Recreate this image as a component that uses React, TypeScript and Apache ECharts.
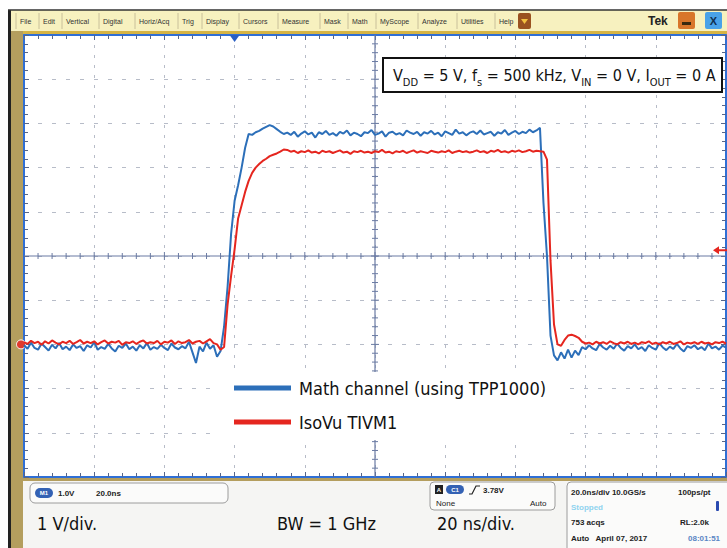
import React, { useEffect, useRef } from "react";
import * as echarts from "echarts";

// ---------- data ----------
const sampleIntervalNs = 1;
const timeMinNs = 0;
const timeMaxNs = 200;
const timePerDivNs = 20;
const voltMin = -3;
const voltMax = 7;
const voltPerDiv = 1;
const triggerTimeNs = 60;
const triggerMarkerV = 2.13;

const seriesNames = ["Math channel (using TPP1000)", "IsoVu TIVM1"];

// Math channel (TPP1000), volts, one sample per ns from 0 to 200 ns
const mathChannelV = [
  -0.02, -0.1, 0.04, -0.08, -0.12, 0.02, -0.06, -0.14, -0.01, -0.09,
  0.03, -0.11, -0.05, -0.13, 0.0, -0.08, -0.04, -0.15, -0.02, -0.07,
  0.05, -0.12, -0.06, -0.1, 0.01, -0.09, -0.16, -0.03, -0.08, 0.02,
  -0.11, -0.05, -0.14, -0.02, -0.09, 0.03, -0.12, -0.06, -0.1, -0.01,
  -0.08, -0.13, 0.02, -0.07, -0.11, -0.04, -0.09, 0.06, -0.18, -0.42,
  -0.05, -0.16, 0.04, -0.1, -0.02, -0.28,
  -0.15, 0.4, 1.3, 2.5, 3.25, 3.6, 4.0, 4.45, 4.76,
  4.74, 4.8, 4.83, 4.88, 4.92, 4.96, 4.93, 4.87, 4.81, 4.76, 4.79,
  4.74, 4.81, 4.7, 4.77, 4.82, 4.75, 4.79, 4.68, 4.8, 4.76,
  4.83, 4.74, 4.78, 4.72, 4.81, 4.77, 4.84, 4.73, 4.79, 4.76,
  4.71, 4.8, 4.78, 4.85, 4.74, 4.77, 4.82, 4.7, 4.79, 4.81,
  4.75, 4.78, 4.73, 4.84, 4.79, 4.76, 4.81, 4.72, 4.8, 4.77,
  4.83, 4.75, 4.79, 4.71, 4.82, 4.78, 4.74, 4.86, 4.77, 4.8,
  4.73, 4.79, 4.82, 4.76, 4.84, 4.75, 4.78, 4.81, 4.72, 4.8,
  4.77, 4.85, 4.74, 4.79, 4.83, 4.76, 4.81, 4.78, 4.86, 4.8,
  4.84, 4.9, 3.2, 2.0, 0.2,
  -0.25, -0.36, -0.18, -0.32, -0.12, -0.3, -0.14, -0.24, -0.06, -0.11,
  -0.02, -0.09, -0.13, 0.01, -0.07, -0.12, -0.03, -0.1, 0.02, -0.08,
  -0.14, -0.04, -0.09, 0.0, -0.11, -0.06, -0.15, -0.02, -0.08, -0.12,
  0.03, -0.07, -0.13, -0.05, -0.1, 0.01, -0.09, -0.16, -0.04, -0.08,
  -0.02, -0.11, -0.06, -0.13, 0.02, -0.09, -0.05, -0.12, -0.03, -0.07,
];

// IsoVu TIVM1, volts, one sample per ns from 0 to 200 ns
const isoVuV = [
  0.05, 0.01, 0.08, 0.03, 0.06, -0.01, 0.07, 0.02, 0.09, 0.04,
  0.0, 0.06, 0.03, 0.08, 0.01, 0.05, 0.1, 0.02, 0.06, 0.03,
  0.07, 0.0, 0.05, 0.09, 0.02, 0.06, 0.04, 0.08, -0.01, 0.05,
  0.03, 0.07, 0.01, 0.06, 0.09, 0.02, 0.05, 0.03, 0.08, 0.0,
  0.06, 0.04, 0.09, 0.01, 0.07, 0.03, 0.05, 0.1, 0.02, 0.06,
  0.08, 0.02, 0.07, 0.12, 0.03, 0.0,
  -0.12, -0.06, 0.9, 1.55, 2.15, 2.85, 3.15, 3.45, 3.7,
  3.88, 4.0, 4.08, 4.15, 4.2, 4.26, 4.29, 4.32, 4.36, 4.41, 4.4,
  4.36, 4.38, 4.33, 4.37, 4.35, 4.39, 4.34, 4.36, 4.32, 4.38,
  4.35, 4.37, 4.33, 4.36, 4.39, 4.34, 4.36, 4.31, 4.37, 4.35,
  4.38, 4.34, 4.36, 4.33, 4.37, 4.35, 4.4, 4.34, 4.36, 4.32,
  4.37, 4.35, 4.38, 4.33, 4.36, 4.39, 4.34, 4.37, 4.35, 4.33,
  4.38, 4.36, 4.34, 4.37, 4.35, 4.39, 4.33, 4.36, 4.38, 4.35,
  4.37, 4.34, 4.36, 4.39, 4.35, 4.37, 4.33, 4.38, 4.36, 4.4,
  4.35, 4.37, 4.34, 4.38, 4.36, 4.39, 4.35, 4.37, 4.4, 4.36,
  4.38, 4.37, 4.36, 4.18, 1.9,
  0.45, 0.0, -0.03, 0.1, 0.2, 0.22, 0.19, 0.15, 0.06, 0.02,
  0.04, 0.0, 0.06, 0.02, 0.05, 0.01, 0.07, 0.03, 0.0, 0.05,
  0.02, 0.06, 0.01, 0.04, 0.0, 0.05, 0.03, 0.07, 0.01, 0.04,
  0.0, 0.05, 0.02, 0.06, 0.01, 0.03, 0.07, 0.0, 0.04, 0.02,
  0.05, 0.01, 0.06, 0.02, 0.04, 0.0, 0.05, 0.03, 0.06, 0.02,
];

const menuItems = [
  "File", "Edit", "Vertical", "Digital", "Horiz/Acq", "Trig", "Display", "Cursors",
  "Measure", "Mask", "Math", "MyScope", "Analyze", "Utilities", "Help",
];
const footnotes = ["1 V/div.", "BW = 1 GHz", "20 ns/div."];

// ---------- styling / layout ----------
const FONT = "'DejaVu Sans Condensed', 'Liberation Sans Narrow', 'DejaVu Sans', sans-serif";
const UI_FONT = "'Liberation Sans', Arial, sans-serif";
const BLUE = "#2c6fb9";
const RED = "#e5261f";
const RETICLE = "#6b7ba3";
const menuLayoutX = [20, 43, 66, 103, 139, 182, 206, 243, 282, 324, 352, 380, 422, 461, 499];

function uiText(x: number, y: number, text: string, opts: any = {}) {
  return {
    type: "text",
    x,
    y,
    z: 20,
    silent: true,
    style: {
      text,
      fontSize: opts.size ?? 8,
      fontFamily: opts.family ?? UI_FONT,
      fontWeight: opts.weight ?? "bold",
      fill: opts.fill ?? "#222",
      align: opts.align ?? "left",
      verticalAlign: "middle",
    },
  };
}
function rect(x: number, y: number, w: number, h: number, style: any, r = 0, z = 5) {
  return { type: "rect", z, silent: true, shape: { x, y, width: w, height: h, r }, style };
}

function buildOption() {
  const toPairs = (arr: number[]) => arr.map((v, i) => [timeMinNs + i * sampleIntervalNs, v]);

  const axisCommon = {
    axisLabel: { show: false },
    axisLine: { show: true, onZero: false, lineStyle: { color: "#2f6fd6", width: 2 } },
    axisTick: { show: true, inside: true, length: 5, lineStyle: { color: "#55658a", width: 1 } },
    minorTick: { show: true, splitNumber: 5, length: 4, lineStyle: { color: "#55658a", width: 1 } },
  };

  const graphics: any[] = [];
  // window frame
  graphics.push(rect(11, 10, 716, 21, { fill: "#f7f1bf" }, 0, 1));
  graphics.push({ type: "line", z: 2, silent: true, shape: { x1: 8, y1: 10, x2: 727, y2: 10 }, style: { stroke: "#333", lineWidth: 1.5 } });
  graphics.push(rect(11, 31, 716, 3, { fill: "#d6b444" }, 0, 1));
  graphics.push(rect(8, 10, 3, 538, { fill: "#222" }, 0, 1));
  graphics.push(rect(11, 31, 12, 517, { fill: "#b49e5e" }, 0, 1));
  graphics.push(rect(11, 478, 716, 3, { fill: "#b49e5e" }, 0, 1));
  graphics.push(rect(23, 481, 704, 67, { fill: "#f5f5f3" }, 0, 1));

  // menu
  menuItems.forEach((m, i) => {
    graphics.push(uiText(menuLayoutX[i], 21, m, { size: 7, weight: "normal", fill: "#333" }));
    graphics.push({
      type: "line", z: 3, silent: true,
      shape: { x1: menuLayoutX[i] - 4, y1: 13, x2: menuLayoutX[i] - 4, y2: 29 },
      style: { stroke: "#c9c09a", lineWidth: 1 },
    });
  });
  graphics.push(rect(518, 13, 13, 16, { fill: "#9a5220" }, 2, 3));
  graphics.push({ type: "polygon", z: 4, silent: true, shape: { points: [[521, 19], [528, 19], [524.5, 24]] }, style: { fill: "#f2c040" } });
  graphics.push(uiText(648, 21, "Tek", { size: 12, fill: "#222" }));
  graphics.push(rect(678, 12, 17, 17, { fill: "#d8762a" }, 2, 3));
  graphics.push(rect(682, 22, 9, 3, { fill: "#3a2a10" }, 0, 4));
  graphics.push(rect(705, 12, 17, 17, { fill: "#49a2e8" }, 2, 3));
  graphics.push(uiText(713.5, 21, "X", { size: 11, align: "center", fill: "#103050" }));

  // status bar boxes
  const boxStyle = { fill: "#fbfbfa", stroke: "#9c9c9c", lineWidth: 1 };
  graphics.push(rect(30, 483, 198, 20, boxStyle, 5, 5));
  graphics.push(rect(35, 488, 18, 10, { fill: "#3462b4" }, 5, 6));
  graphics.push(uiText(44, 493, "M1", { size: 6, align: "center", fill: "#fff" }));
  graphics.push(uiText(58, 493, "1.0V"));
  graphics.push(uiText(96, 493, "20.0ns"));

  graphics.push(rect(430, 482, 125, 28, boxStyle, 4, 5));
  graphics.push(rect(435, 485, 8, 9, { fill: "#222" }, 0, 6));
  graphics.push(uiText(439, 489.5, "A", { size: 6, align: "center", fill: "#fff" }));
  graphics.push(rect(446, 485, 18, 9, { fill: "#3462b4" }, 4.5, 6));
  graphics.push(uiText(455, 489.5, "C1", { size: 6, align: "center", fill: "#fff" }));
  graphics.push({ type: "polyline", z: 6, silent: true, shape: { points: [[469, 494], [472, 494], [476, 486], [480, 486]] }, style: { stroke: "#222", lineWidth: 1.2, fill: null } });
  graphics.push(uiText(483, 490, "3.78V"));
  graphics.push(uiText(436, 503, "None", { weight: "normal" }));
  graphics.push(uiText(530, 503, "Auto", { weight: "normal" }));

  graphics.push(rect(567, 482, 170, 72, boxStyle, 4, 5));
  graphics.push(uiText(571, 492, "20.0ns/div 10.0GS/s"));
  graphics.push(uiText(678, 492, "100ps/pt"));
  graphics.push(uiText(571, 507, "Stopped", { fill: "#8fd3ef" }));
  graphics.push(rect(716, 501, 3, 10, { fill: "#2a4ab0" }, 1, 6));
  graphics.push(uiText(571, 522, "753 acqs"));
  graphics.push(uiText(680, 522, "RL:2.0k"));
  graphics.push(uiText(571, 538, "Auto   April 07, 2017"));
  graphics.push(uiText(688, 538, "08:01:51", { fill: "#5a86c4" }));

  // annotation box
  graphics.push(rect(383, 58, 339, 34, { fill: "#fff", stroke: "#111", lineWidth: 2 }, 0, 30));
  graphics.push({
    type: "text", z: 31, silent: true, x: 393, y: 62,
    style: {
      text: "{n|V}{s|DD}{n| = 5 V, f}{s|s}{n| = 500 kHz, V}{s|IN}{n| = 0 V, I}{s|OUT}{n| = 0 A}",
      rich: {
        n: { fontSize: 16, fontFamily: FONT, lineHeight: 26, fill: "#111" },
        s: { fontSize: 11, fontFamily: FONT, lineHeight: 11, padding: [15, 0, 0, 0], fill: "#111" },
      },
    },
  });

  // footnotes in the status bar
  const footX = [37, 277, 437];
  footnotes.forEach((f, i) => {
    graphics.push(uiText(footX[i], 523, f, { size: 18, family: FONT, weight: "normal", fill: "#111" }));
  });

  const tMid = (timeMinNs + timeMaxNs) / 2;
  const vMid = (voltMin + voltMax) / 2;

  return {
    animation: false,
    backgroundColor: "#ffffff",
    grid: { left: 24, top: 35, width: 702, height: 442, show: false },
    legend: {
      orient: "vertical",
      left: 218,
      top: 372,
      padding: [4, 14, 6, 16],
      itemGap: 10,
      itemWidth: 57,
      itemHeight: 5,
      icon: "rect",
      selectedMode: false,
      backgroundColor: "#ffffff",
      textStyle: { fontFamily: FONT, fontSize: 18, color: "#111", lineHeight: 24, padding: [0, 0, 0, 3] },
      data: seriesNames,
    },
    xAxis: [
      {
        type: "value", min: timeMinNs, max: timeMaxNs, interval: timePerDivNs, position: "bottom",
        ...axisCommon,
        splitLine: { show: true, lineStyle: { color: "#b7bcc8", type: [3, 7], width: 1 } },
      },
      {
        type: "value", min: timeMinNs, max: timeMaxNs, interval: timePerDivNs, position: "top",
        ...axisCommon, splitLine: { show: false },
      },
    ],
    yAxis: [
      {
        type: "value", min: voltMin, max: voltMax, interval: voltPerDiv, position: "left",
        ...axisCommon,
        splitLine: { show: true, lineStyle: { color: "#b7bcc8", type: [4, 10], width: 1 } },
      },
      {
        type: "value", min: voltMin, max: voltMax, interval: voltPerDiv, position: "right",
        ...axisCommon, splitLine: { show: false },
      },
    ],
    series: [
      {
        type: "custom",
        name: "reticle",
        coordinateSystem: "cartesian2d",
        silent: true,
        clip: false,
        z: 1,
        data: [[tMid, vMid]],
        renderItem: (_params: any, api: any) => {
          const children: any[] = [];
          const ln = (x1: number, y1: number, x2: number, y2: number, stroke: string, w: number) => ({
            type: "line", shape: { x1, y1, x2, y2 }, style: { stroke, lineWidth: w },
          });
          const h0 = api.coord([timeMinNs, vMid]);
          const h1 = api.coord([timeMaxNs, vMid]);
          const v0 = api.coord([tMid, voltMax]);
          const v1 = api.coord([tMid, voltMin]);
          children.push(ln(h0[0], h0[1], h1[0], h1[1], RETICLE, 1.2));
          children.push(ln(v0[0], v0[1], v1[0], v1[1], RETICLE, 1.2));
          const nT = Math.round((timeMaxNs - timeMinNs) / (timePerDivNs / 5));
          for (let i = 1; i < nT; i++) {
            const p = api.coord([timeMinNs + (i * timePerDivNs) / 5, vMid]);
            const d = i % 5 === 0 ? 4 : 3;
            children.push(ln(p[0], p[1] - d, p[0], p[1] + d, RETICLE, 1));
          }
          const nV = Math.round((voltMax - voltMin) / (voltPerDiv / 5));
          for (let i = 1; i < nV; i++) {
            const p = api.coord([tMid, voltMin + (i * voltPerDiv) / 5]);
            const d = i % 5 === 0 ? 4 : 3;
            children.push(ln(p[0] - d, p[1], p[0] + d, p[1], RETICLE, 1));
          }
          // channel ground marker
          const g = api.coord([timeMinNs, 0]);
          children.push({ type: "circle", shape: { cx: g[0] - 3, cy: g[1], r: 4.5 }, style: { fill: "#e03a2e", stroke: "#ffffff", lineWidth: 1 } });
          // trigger position marker
          const tp = api.coord([triggerTimeNs, voltMax]);
          children.push({ type: "polygon", shape: { points: [[tp[0] - 5, tp[1]], [tp[0] + 5, tp[1]], [tp[0], tp[1] + 7]] }, style: { fill: "#2a5fc4" } });
          // trigger level marker
          const tl = api.coord([timeMaxNs, triggerMarkerV]);
          children.push({ type: "polygon", shape: { points: [[tl[0] - 13, tl[1]], [tl[0] - 7, tl[1] - 4], [tl[0] - 7, tl[1] + 4]] }, style: { fill: RED } });
          children.push(ln(tl[0] - 8, tl[1], tl[0] + 1, tl[1], RED, 2));
          return { type: "group", children };
        },
      },
      {
        type: "line",
        name: seriesNames[0],
        data: toPairs(mathChannelV),
        showSymbol: false,
        symbol: "none",
        z: 3,
        color: BLUE,
        itemStyle: { color: BLUE },
        lineStyle: { color: BLUE, width: 2 },
      },
      {
        type: "line",
        name: seriesNames[1],
        data: toPairs(isoVuV),
        showSymbol: false,
        symbol: "none",
        z: 4,
        color: RED,
        itemStyle: { color: RED },
        lineStyle: { color: RED, width: 2 },
      },
    ],
    graphic: { elements: graphics },
  };
}

export default function App() {
  const ref = useRef<HTMLDivElement>(null);
  useEffect(() => {
    document.body.style.margin = "0";
    if (!ref.current) return;
    const chart = echarts.init(ref.current, null, { renderer: "svg" });
    chart.setOption(buildOption() as any);
    return () => chart.dispose();
  }, []);
  return <div ref={ref} style={{ width: 727, height: 548 }} />;
}
